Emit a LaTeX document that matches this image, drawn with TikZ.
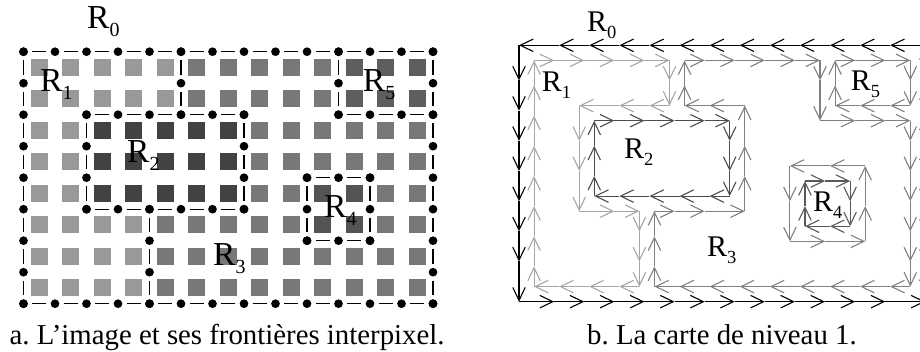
\documentclass[tikz,border=0pt]{standalone}
\usepackage{fontspec}
\setmainfont{Liberation Serif}
\usetikzlibrary{arrows.meta}

\definecolor{toneone}{gray}{0.60}
\definecolor{tonetwo}{gray}{0.26}
\definecolor{tonethree}{gray}{0.47}
\definecolor{tonefour}{gray}{0.33}
\definecolor{tonefive}{gray}{0.37}

\tikzset{
    pixbox/.style={minimum size=17pt,inner sep=0pt,fill=#1},
    dotn/.style={circle,fill=black,minimum size=8.7pt,inner sep=0pt},
    gapline/.style={line width=1.2pt,shorten >=4pt,shorten <=4pt},
    dart/.style={line width=1.1pt,draw=#1,-{Straight Barb[length=13pt,width=12.5pt,line width=1.1pt]}},
    lab/.style={anchor=base west,inner sep=0pt}
}

% R with its index, large for the image and smaller for the map
\newcommand{\bigreg}[1]{\fontsize{33.5}{33.5}\selectfont R\raisebox{-8pt}{\fontsize{20}{20}\selectfont #1}}
\newcommand{\smallreg}[1]{\fontsize{30}{30}\selectfont R\raisebox{-7pt}{\fontsize{18.5}{18.5}\selectfont #1}}

% one side of a contour, from (#2,#3) to (#4,#5) in half pixels
\newcommand{\dartrun}[5]{
    \pgfmathsetmacro{\sta}{(#3==#5) ? #2 : #3}
    \pgfmathsetmacro{\sto}{(#3==#5) ? #4 : #5}
    \pgfmathtruncatemacro{\sgn}{(\sto>\sta) ? 1 : -1}
    \coordinate (prev) at (#2,#3);
    \foreach \i in {0,...,14}{
        \pgfmathsetmacro{\tipat}{(\sgn>0) ? 2*\i+1/3 : 26+2/3-2*\i}
        \pgfmathtruncatemacro{\keep}{(((\tipat-\sta)*\sgn>1) && ((\sto-\tipat)*\sgn>1)) ? 1 : 0}
        \ifnum\keep=1
            \pgfmathsetmacro{\fracat}{(\tipat-\sta)/(\sto-\sta)}
            \coordinate (tip) at ({#2+(#4-#2)*\fracat},{#3+(#5-#3)*\fracat});
            \draw[dart=#1] (prev) -- (tip);
            \coordinate (prev) at (tip);
        \fi
    }
    \draw[dart=#1] (prev) -- (#4,#5);
}

\begin{document}
\begin{tikzpicture}[x=1pt,y=-1pt]
    \clip (0,0) rectangle (920,351);

    % a. the image
    \begin{scope}[shift={(23.5,51.7)},x=31.5pt,y=-31.5pt]
        \foreach \x in {0,...,12}{
            \foreach \y in {0,...,7}{
                \node[pixbox=tonethree] (p-\x-\y) at (\x+0.5,\y+0.5) {};
            }
        }
        \foreach \xa/\xb/\ya/\yb/\tone in {0/4/0/1/toneone,0/1/2/4/toneone,0/3/5/7/toneone,
                2/6/2/4/tonetwo,9/10/4/5/tonefour,10/12/0/1/tonefive}{
            \foreach \x in {\xa,...,\xb}{
                \foreach \y in {\ya,...,\yb}{
                    \node[pixbox=\tone] (p-\x-\y) at (\x+0.5,\y+0.5) {};
                }
            }
        }
        % interpixel borders, horizontal then vertical
        \foreach \y/\a/\b in {0/0/13,2/2/7,2/10/13,5/2/7,4/9/11,6/9/11,8/0/13}{
            \foreach \x [remember=\x as \px (initially \a)] in {\a,...,\b}{
                \node[dotn] (d-\x-\y) at (\x,\y) {};
                \ifnum\x>\a \draw[gapline] (d-\px-\y) -- (d-\x-\y); \fi
            }
        }
        \foreach \x/\a/\b in {0/0/8,5/0/2,2/2/5,7/2/5,10/0/2,4/5/8,9/4/6,11/4/6,13/0/8}{
            \foreach \y [remember=\y as \py (initially \a)] in {\a,...,\b}{
                \node[dotn] (d-\x-\y) at (\x,\y) {};
                \ifnum\y>\a \draw[gapline] (d-\x-\py) -- (d-\x-\y); \fi
            }
        }
    \end{scope}

    \node[lab] (a0) at (87,28) {\bigreg{0}};
    \node[lab] (a1) at (40,91) {\bigreg{1}};
    \node[lab] (a2) at (127,162) {\bigreg{2}};
    \node[lab] (a3) at (213,265) {\bigreg{3}};
    \node[lab] (a4) at (324,217.7) {\bigreg{4}};
    \node[lab] (a5) at (362.7,91) {\bigreg{5}};
    \node[lab] (capa) at (9.5,344) {\fontsize{28.8}{28.8}\selectfont a.\ L’image et ses frontières interpixel.};

    % b. the map
    \begin{scope}[shift={(519,45.3)},x=15.05pt,y=-15.08pt]
        % R0
        \foreach \ka/\ma/\kb/\mb in {27/0/0/0,0/0/0/17,0/17/27/17,27.05/17/27.05/0}{
            \dartrun{black}{\ka}{\ma}{\kb}{\mb}
        }
        % R1
        \foreach \ka/\ma/\kb/\mb in {1/1/10/1,10/1/10/4,10/4/4/4,4/4/4/11,4/11/8/11,8/11/8/16,8/16/1/16,1/16/1/1}{
            \dartrun{black!35}{\ka}{\ma}{\kb}{\mb}
        }
        % R2
        \foreach \ka/\ma/\kb/\mb in {5/5/14/5,14/5/14/10,14/10/5/10,5/10/5/5}{
            \dartrun{black!70}{\ka}{\ma}{\kb}{\mb}
        }
        % R3
        \foreach \ka/\ma/\kb/\mb in {11/1/20/1,20/1/20/5,20/5/26/5,26/5/26/16,26/16/9/16,9/16/9/11,9/11/15/11,15/11/15/4,15/4/11/4,11/4/11/1}{
            \dartrun{black!50}{\ka}{\ma}{\kb}{\mb}
        }
        \foreach \ka/\ma/\kb/\mb in {23/8/18/8,18/8/18/13,18/13/23/13,23/13/23/8}{
            \dartrun{black!50}{\ka}{\ma}{\kb}{\mb}
        }
        % R4
        \foreach \ka/\ma/\kb/\mb in {19/9/22/9,22/9/22/12,22/12/19/12,19/12/19/9}{
            \dartrun{black!65}{\ka}{\ma}{\kb}{\mb}
        }
        % R5
        \foreach \ka/\ma/\kb/\mb in {21/1/26/1,26/1/26/4,26/4/21/4,21/4/21/1}{
            \dartrun{black!50}{\ka}{\ma}{\kb}{\mb}
        }
    \end{scope}

    \node[lab] (b0) at (587,31) {\smallreg{0}};
    \node[lab] (b1) at (541.7,91) {\smallreg{1}};
    \node[lab] (b2) at (624,158) {\smallreg{2}};
    \node[lab] (b3) at (707,256.7) {\smallreg{3}};
    \node[lab] (b4) at (813,211.7) {\smallreg{4}};
    \node[lab] (b5) at (850.7,90.7) {\smallreg{5}};
    \node[lab] (capb) at (587,344) {\fontsize{28.8}{28.8}\selectfont b.\ La carte de niveau 1.};
\end{tikzpicture}
\end{document}
